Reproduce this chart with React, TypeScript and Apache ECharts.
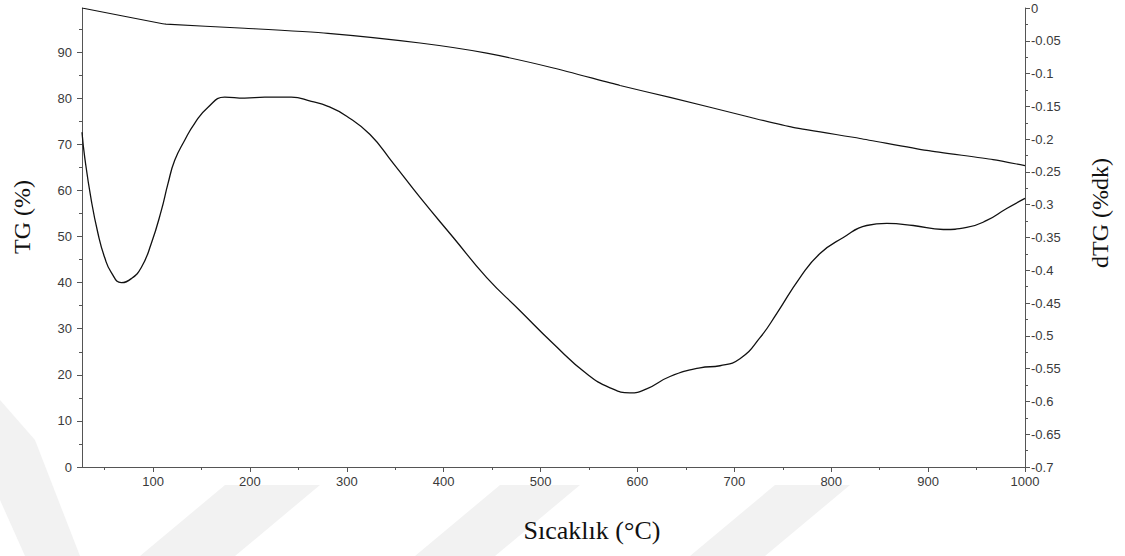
import React, { useEffect, useRef } from "react";
import * as echarts from "echarts";

// TG (%) curve — temperature (°C) and mass (%)
const tgTemps = [26.7, 110, 113.4, 194.6, 280.6, 375.6, 444.4, 513.2, 582, 633.6, 716.2, 760.5, 829.7, 898.5, 967, 1000];
const tgValues = [99.6, 96.2, 96.1, 95.2, 94.1, 92.0, 89.8, 86.6, 82.8, 80.2, 75.9, 73.7, 71.3, 68.7, 66.7, 65.4];

// dTG (%/dk) curve
const dtgTemps = [
  26.7, 29.5, 36.3, 43.2, 50.1, 57.0, 67.3, 77.6, 87.9, 98.2, 108.6, 115.5, 122.4, 132.7, 143.0, 156.8,
  174.0, 194.6, 215.3, 242.7, 263.4, 280.6, 299.9, 324.0, 348.0, 375.6, 409.9, 444.4, 478.8, 513.2,
  547.6, 571.7, 592.3, 609.5, 633.6, 664.6, 685.2, 705.8, 726.5, 743.7, 767.8, 788.4, 812.5,
  836.6, 857.3, 884.7, 915.7, 939.8, 960.5, 981.1, 1000,
];
const dtgValues = [
  -0.1895, -0.2277, -0.2934, -0.3439, -0.3806, -0.4035, -0.4188, -0.4127, -0.3958, -0.3592, -0.3087, -0.2675,
  -0.2323, -0.2017, -0.1758, -0.1513, -0.136, -0.1375, -0.136, -0.136, -0.1425, -0.150, -0.165, -0.193,
  -0.2369, -0.2889, -0.35, -0.4111, -0.4616, -0.512, -0.5578, -0.5792, -0.5869, -0.5808, -0.562,
  -0.5487, -0.5456, -0.5349, -0.5028, -0.4661, -0.4111, -0.3744, -0.35, -0.3317, -0.3286, -0.3317, -0.3378,
  -0.3347, -0.324, -0.3057, -0.2904,
];

// axis ticks
const xTicks = [100, 200, 300, 400, 500, 600, 700, 800, 900, 1000];
const xMinorTicks = [50, 150, 250, 350, 450, 550, 650, 750, 850, 950];
const tgTicks = [0, 10, 20, 30, 40, 50, 60, 70, 80, 90];
const tgMinorTicks = [5, 15, 25, 35, 45, 55, 65, 75, 85, 95];
const dtgMinorTicks = [-0.675, -0.625, -0.575, -0.525, -0.475, -0.425, -0.375, -0.325, -0.275, -0.225, -0.175, -0.125, -0.075, -0.025];

const X_MIN = 26.7;
const X_MAX = 1000;
const TG_MAX = 99.6;

const labelStyle = { color: "#3a3a3a", fontSize: 13, fontFamily: "'Liberation Sans', Arial, sans-serif" };
const axisLineStyle = { onZero: false, lineStyle: { color: "#555", width: 1 } };
const tickStyle = { color: "#555", width: 1 };

export default function App() {
  const ref = useRef<HTMLDivElement>(null);
  useEffect(() => {
    if (!ref.current) return;
    const chart = echarts.init(ref.current, null, { renderer: "svg" });
    const wm = "#f2f2f2";
    const serif = "'Liberation Serif', 'Times New Roman', serif";
    chart.setOption({
      animation: false,
      backgroundColor: "#fff",
      grid: { left: 82, right: 100, top: 8, bottom: 89, containLabel: false },
      xAxis: [
        {
          type: "value", min: X_MIN, max: X_MAX, position: "bottom",
          axisLine: { show: true, ...axisLineStyle },
          axisTick: { show: true, length: 5, lineStyle: tickStyle, customValues: xTicks },
          axisLabel: { ...labelStyle, margin: 8, customValues: xTicks, formatter: (v: number) => String(v) },
          splitLine: { show: false },
        },
        {
          type: "value", min: X_MIN, max: X_MAX, position: "bottom",
          axisLine: { show: false, onZero: false },
          axisTick: { show: true, length: 3, lineStyle: tickStyle, customValues: xMinorTicks },
          axisLabel: { show: false },
          splitLine: { show: false },
        },
      ],
      yAxis: [
        {
          type: "value", min: 0, max: TG_MAX, position: "left",
          axisLine: { show: true, ...axisLineStyle },
          axisTick: { show: true, length: 5, lineStyle: tickStyle, customValues: tgTicks },
          axisLabel: { ...labelStyle, margin: 10, customValues: tgTicks },
          splitLine: { show: false },
        },
        {
          type: "value", min: -0.7, max: 0, interval: 0.05, position: "right",
          axisLine: { show: true, ...axisLineStyle },
          axisTick: { show: true, length: 5, lineStyle: tickStyle },
          axisLabel: { ...labelStyle, margin: 6, formatter: (v: number) => String(Math.round(v * 100) / 100) },
          splitLine: { show: false },
        },
        {
          type: "value", min: 0, max: TG_MAX, position: "left",
          axisLine: { show: false, onZero: false },
          axisTick: { show: true, length: 3, lineStyle: tickStyle, customValues: tgMinorTicks },
          axisLabel: { show: false },
          splitLine: { show: false },
        },
        {
          type: "value", min: -0.7, max: 0, position: "right",
          axisLine: { show: false, onZero: false },
          axisTick: { show: true, length: 3, lineStyle: tickStyle, customValues: dtgMinorTicks },
          axisLabel: { show: false },
          splitLine: { show: false },
        },
      ],
      series: [
        {
          type: "line", name: "TG", xAxisIndex: 0, yAxisIndex: 0,
          data: tgTemps.map((t, i) => [t, tgValues[i]]),
          showSymbol: false, smooth: 0.2,
          lineStyle: { color: "#111", width: 1.1 },
        },
        {
          type: "line", name: "dTG", xAxisIndex: 0, yAxisIndex: 1,
          data: dtgTemps.map((t, i) => [t, dtgValues[i]]),
          showSymbol: false, smooth: 0.5,
          lineStyle: { color: "#111", width: 1.3 },
        },
      ],
      graphic: [
        { type: "polygon", z: -10, silent: true, shape: { points: [[0, 400], [35, 440], [80, 556], [25, 556], [0, 500]] }, style: { fill: wm } },
        { type: "polygon", z: -10, silent: true, shape: { points: [[140, 556], [235, 556], [320, 485], [225, 485]] }, style: { fill: wm } },
        { type: "polygon", z: -10, silent: true, shape: { points: [[415, 556], [495, 556], [580, 485], [500, 485]] }, style: { fill: wm } },
        { type: "polygon", z: -10, silent: true, shape: { points: [[690, 556], [765, 556], [850, 485], [775, 485]] }, style: { fill: wm } },
        {
          type: "text", silent: true, x: 10, y: 254, rotation: Math.PI / 2, z: 10,
          style: { text: "TG (%)", font: `24px ${serif}`, fill: "#111" },
        },
        {
          type: "text", silent: true, x: 1088, y: 268, rotation: Math.PI / 2, z: 10,
          style: { text: "dTG (%dk)", font: `24px ${serif}`, fill: "#111" },
        },
        {
          type: "text", silent: true, x: 592, y: 530, z: 10,
          style: { text: "Sıcaklık (°C)", font: `26px ${serif}`, fill: "#111", align: "center", verticalAlign: "middle" },
        },
      ],
    });
    return () => chart.dispose();
  }, []);
  return <div ref={ref} style={{ position: "fixed", left: 0, top: 0, width: 1125, height: 556 }} />;
}
